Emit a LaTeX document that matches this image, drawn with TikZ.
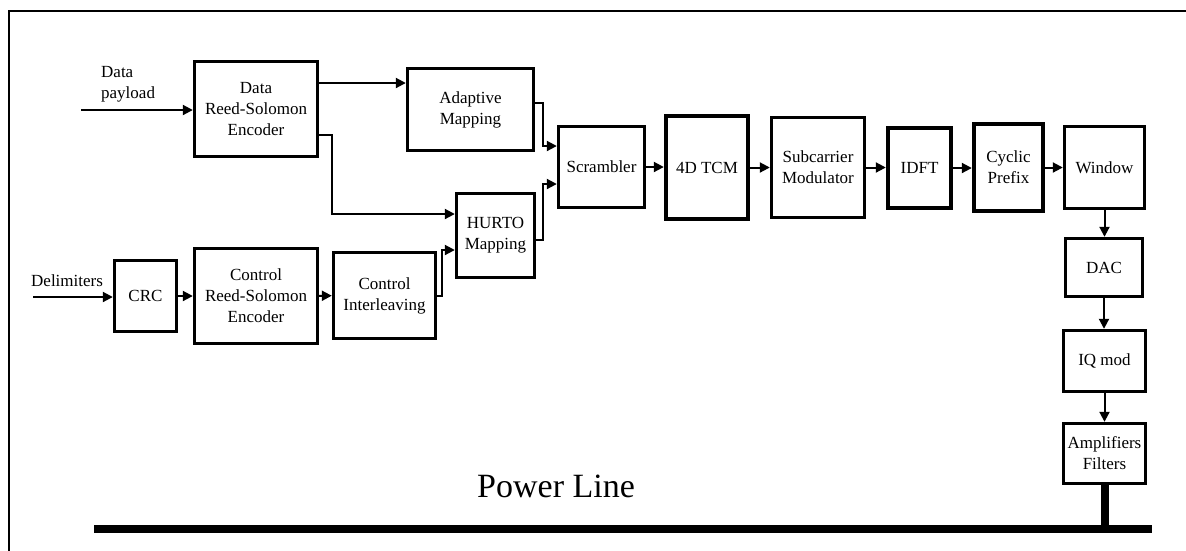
\documentclass[tikz,border=0pt]{standalone}
\usepackage{fontspec}
\setmainfont{Liberation Serif}
\usetikzlibrary{arrows.meta,positioning}
\newcommand{\blkfont}{\fontsize{17}{21}\selectfont}
\tikzset{
  blk/.style   ={draw=black,line width=3.4pt,align=center,inner sep=0pt,
                 font=\blkfont},
  blkthk/.style={blk,line width=4.4pt},
  flow/.style  ={-{Triangle[length=10pt,width=10pt]},draw=black,line width=2pt},
  lbl/.style   ={font=\blkfont,align=left,inner sep=0pt},
}

\begin{document}
\begin{tikzpicture}[
  x=1pt, y=-1pt,
  bus/.style   ={draw=black,line width=7.5pt},
  frm/.style   ={draw=black,line width=2pt},
]
\useasboundingbox (0,0) rectangle (1186,550);
%% outer frame (only top and left edges show)
\draw[frm] (9,560) -- (9,11) -- (1195,11);
%% data branch
\node[blk,minimum width=123,minimum height=95]  (drs) at (256,109)   {Data\\Reed-Solomon\\Encoder};
\node[blk,minimum width=126,minimum height=82]  (adm) at (470.5,109.5) {Adaptive\\Mapping};
%% control branch
\node[blk,minimum width=62,minimum height=71]   (crc) at (145.5,296) {CRC};
\node[blk,minimum width=123,minimum height=95]  (crs) at (256,296)   {Control\\Reed-Solomon\\Encoder};
\node[blk,minimum width=102,minimum height=86]  (cil) at (384.5,295.5) {Control\\Interleaving};
\node[blk,minimum width=78,minimum height=84]   (hur) at (495.5,235.5) {HURTO\\Mapping};
%% main chain
\node[blk,minimum width=86,minimum height=81]    (scr) at (601.5,167)   {Scrambler};
\node[blkthk,minimum width=82,minimum height=103] (tcm) at (707,167.5)   {4D TCM};
\node[blk,minimum width=93,minimum height=100]   (scm) at (818,167.5)   {Subcarrier\\Modulator};
\node[blkthk,minimum width=63,minimum height=80] (idf) at (919.5,168)   {IDFT};
\node[blkthk,minimum width=69,minimum height=87] (cyp) at (1008.5,167.5) {Cyclic\\Prefix};
\node[blk,minimum width=80,minimum height=82]    (win) at (1104.5,167.5) {Window};
\node[blk,minimum width=77,minimum height=58]    (dac) at (1104,267.5)  {DAC};
\node[blk,minimum width=82,minimum height=61]    (iqm) at (1104.5,361)  {IQ mod};
\node[blk,minimum width=82,minimum height=60]    (amp) at (1104.5,453.5) {Amplifiers\\Filters};
%% inputs
\coordinate (dpin) at (81,110);
\coordinate (dlin) at (33,297);
\node[lbl,anchor=west] (dptxt) at (101,84) {Data\\payload};
\node[lbl,anchor=base west] (dltxt) at (31,286) {Delimiters};
\draw[flow] (dpin) -- (dpin -| drs.west);
\draw[flow] (dlin) -- (dlin -| crc.west);
%% links
\coordinate (d1) at ([yshift=26pt]drs.east);
\coordinate (d2) at ([yshift=-26pt]drs.east);
\draw[flow] (d1) -- (d1 -| adm.west);
\draw[flow] (d2) -- ++(13,0) |- ([yshift=21.5pt]hur.west);
\draw[flow] (crc) -- (crs);
\draw[flow] (crs) -- (cil);
\draw[flow] (cil.east) -- ++(5,0) |- ([yshift=-14.5pt]hur.west);
\draw[flow] ([yshift=6.5pt]adm.east) -- ++(8,0) |- ([yshift=21pt]scr.west);
\draw[flow] ([yshift=-4.5pt]hur.east) -- ++(7,0) |- ([yshift=-17pt]scr.west);
\foreach \a/\b in {scr/tcm, tcm/scm, scm/idf, idf/cyp, cyp/win}{%
  \draw[flow] (\a.east) -- (\a.east -| \b.west);
}
\foreach \a/\b in {win/dac, dac/iqm, iqm/amp}{%
  \draw[flow] (\a.south) -- (\a.south |- \b.north);
}
%% power line
\coordinate (plw) at (94,529);
\coordinate (ple) at (1152,529);
\draw[bus] (plw) -- (ple);
\draw[bus,line width=8pt] (amp.south) -- (amp.south |- ple);
\node[font=\fontsize{34}{40}\selectfont,anchor=base west,inner sep=0pt] (pltxt) at (477,497) {Power Line};
\end{tikzpicture}
\end{document}
